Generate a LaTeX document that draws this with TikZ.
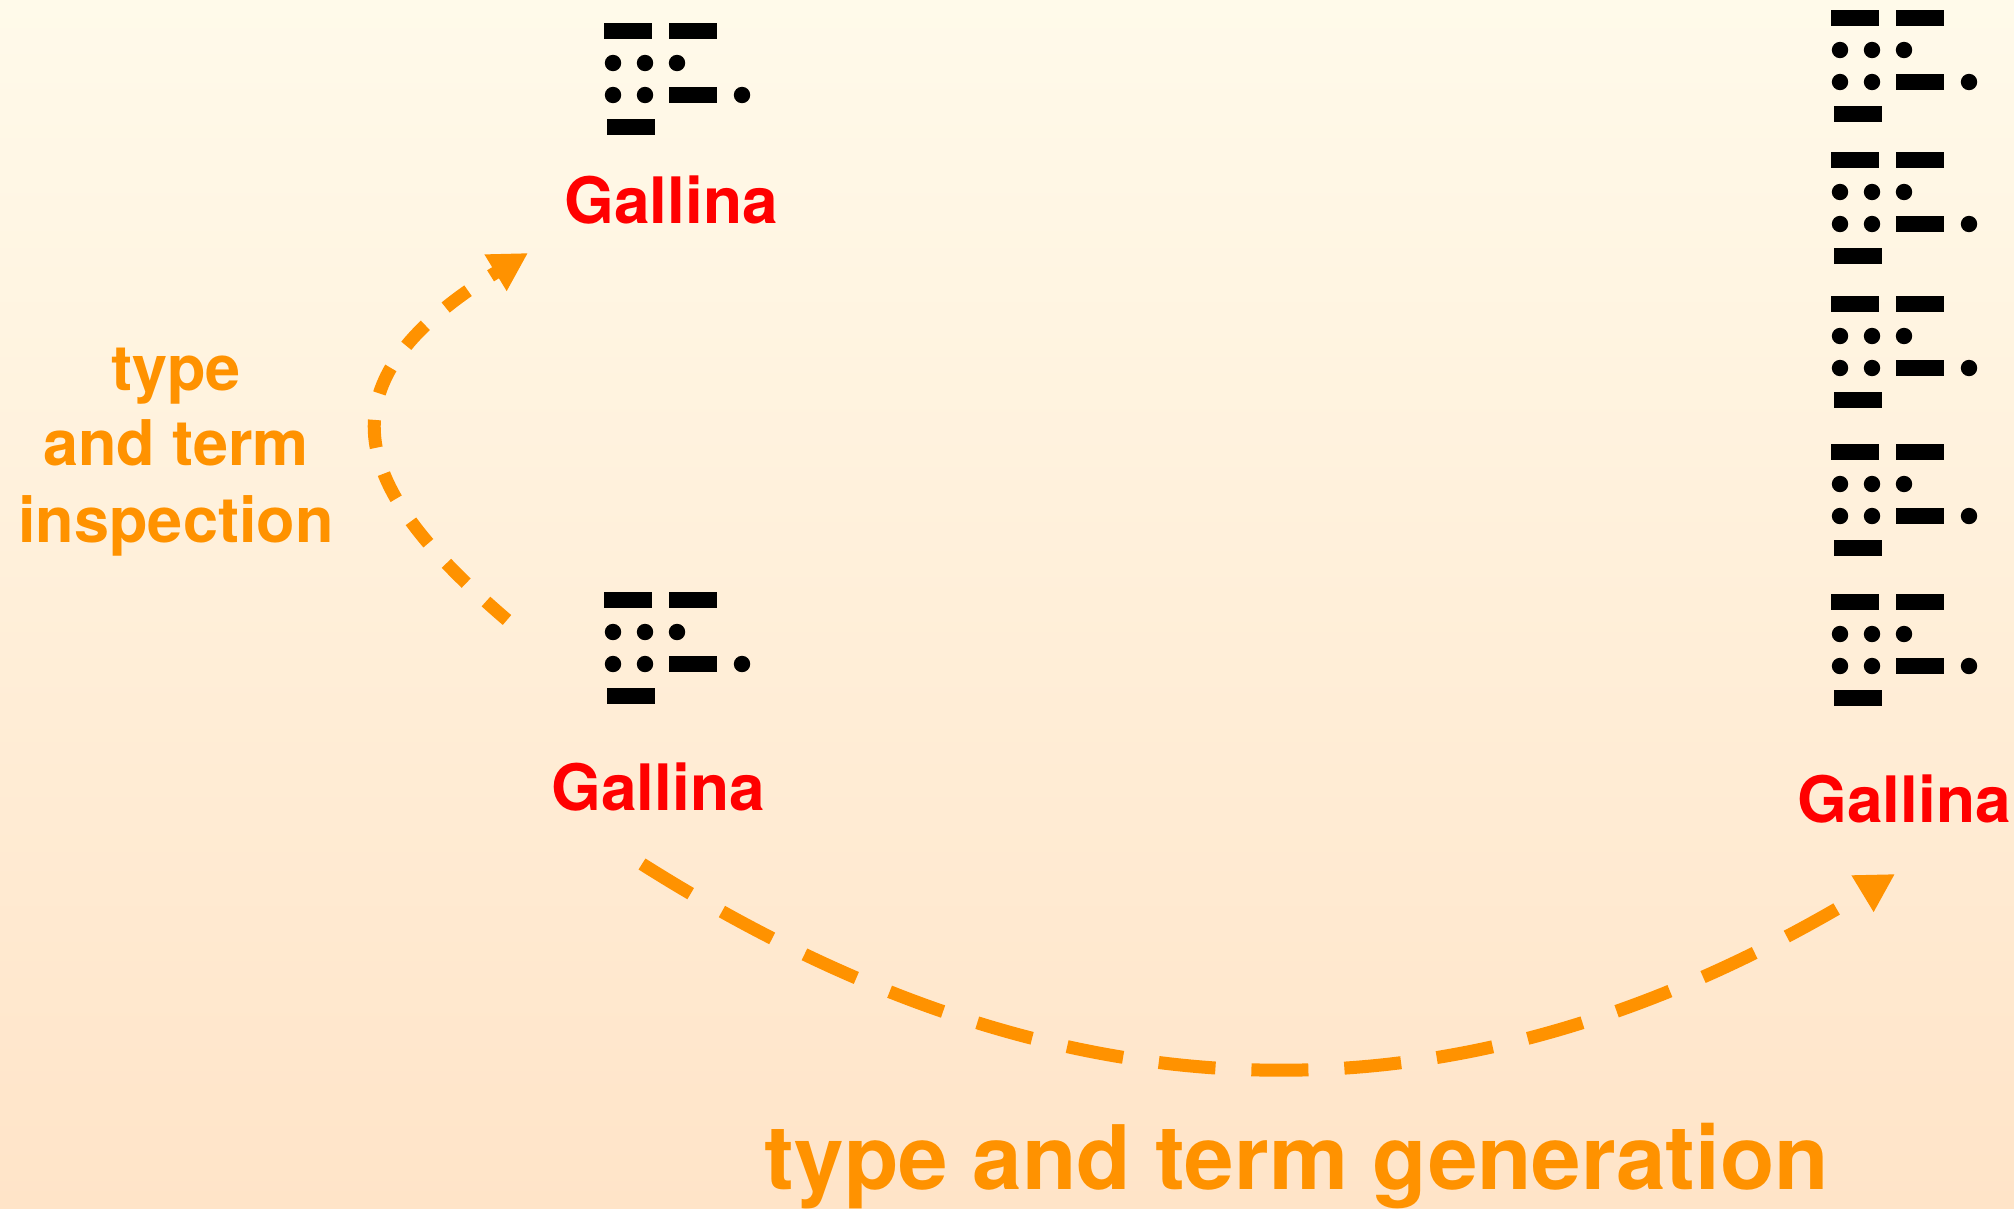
\documentclass[tikz,border=0pt]{standalone}
\usepackage{fontspec}
\setmainfont{TeX Gyre Heros}
\usetikzlibrary{arrows.meta}
\definecolor{bgtop}{RGB}{255,250,234}
\definecolor{bgbot}{RGB}{255,228,200}
\definecolor{arrorange}{RGB}{255,146,0}
\definecolor{galred}{RGB}{255,0,0}
\tikzset{
  glyph/.pic={
    \fill (0,0) rectangle (48,16);
    \fill (65,0) rectangle (113,16);
    \fill (9,40) circle[radius=8.2pt];
    \fill (41,40) circle[radius=8.2pt];
    \fill (73,40) circle[radius=8.2pt];
    \fill (9,72) circle[radius=8.2pt];
    \fill (41,72) circle[radius=8.2pt];
    \fill (65,64) rectangle (113,80);
    \fill (138,72) circle[radius=8.2pt];
    \fill (3,96) rectangle (51,112);
  },
  gallina/.style={text=galred, font=\fontsize{64}{70}\selectfont\bfseries, inner sep=0pt, anchor=base},
  orangelabel/.style={text=arrorange, font=\fontsize{63}{75}\selectfont\bfseries, inner sep=0pt, anchor=base},
  biglabel/.style={text=arrorange, font=\fontsize{89}{100}\selectfont\bfseries, inner sep=0pt, anchor=base},
  flow/.style={draw=arrorange, line width=13pt, line cap=butt, -{Triangle[length=38pt,width=40pt]}},
}
\begin{document}
\begin{tikzpicture}[x=1pt,y=-1pt]
\shade[top color=bgtop, bottom color=bgbot] (0,0) rectangle (2014,1208);
\useasboundingbox (0,0) rectangle (2014,1208);

% glyph icons
\pic at (604,23) {glyph};
\pic at (604,592) {glyph};
\pic at (1831,10) {glyph};
\pic at (1831,152) {glyph};
\pic at (1831,296) {glyph};
\pic at (1831,444) {glyph};
\pic at (1831,594) {glyph};

% labels
\node[gallina] (g1) at (671,223) {Gallina};
\node[gallina] (g2) at (658,810) {Gallina};
\node[gallina] (g3) at (1904,822) {Gallina};

\node[orangelabel] (lt1) at (176,390) {type};
\node[orangelabel] (lt2) at (176,465) {and term};
\node[orangelabel] (lt3) at (176,542) {inspection};

\node[biglabel] (gen) at (1297,1189) {type and term generation};

% arrow endpoints
\coordinate (insS) at (507,620);
\coordinate (insE) at (528,253);
\coordinate (genS) at (642,864);
\coordinate (genE) at (1895,874);

\draw[flow, dash pattern=on 28pt off 27pt] (insS) .. controls (360,494) and (306,388) .. (insE);
\draw[flow, dash pattern=on 57pt off 36pt] (genS) .. controls (1068,1133) and (1464,1135) .. (genE);
\end{tikzpicture}
\end{document}
